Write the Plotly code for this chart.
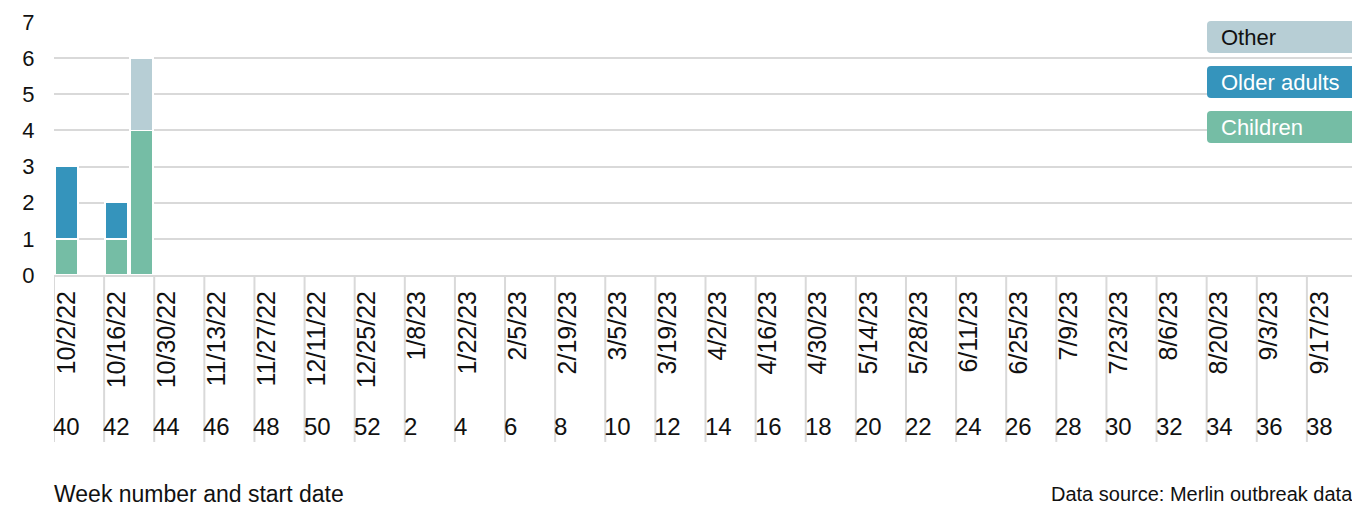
import plotly.graph_objects as go

weeks = [40, 41, 42, 43, 44, 45, 46, 47, 48, 49, 50, 51, 52,
         1, 2, 3, 4, 5, 6, 7, 8, 9, 10, 11, 12, 13, 14, 15, 16, 17, 18, 19, 20,
         21, 22, 23, 24, 25, 26, 27, 28, 29, 30, 31, 32, 33, 34, 35, 36, 37, 38, 39]
date_labels = ["10/2/22", "10/16/22", "10/30/22", "11/13/22", "11/27/22", "12/11/22", "12/25/22",
               "1/8/23", "1/22/23", "2/5/23", "2/19/23", "3/5/23", "3/19/23", "4/2/23", "4/16/23",
               "4/30/23", "5/14/23", "5/28/23", "6/11/23", "6/25/23", "7/9/23", "7/23/23", "8/6/23",
               "8/20/23", "9/3/23", "9/17/23"]
children = [1, 0, 1, 4] + [0] * 48
older_adults = [2, 0, 1, 0] + [0] * 48
other = [0, 0, 0, 2] + [0] * 48

series_names = ["Children", "Older adults", "Other"]
series_values = [children, older_adults, other]
colors = ["#75BDA5", "#3594BC", "#B7CED5"]
text_colors = ["#FFFFFF", "#FFFFFF", "#111111"]

FONT = "Liberation Sans"
x = list(range(len(weeks)))

fig = go.Figure()
for name, vals, col in zip(series_names, series_values, colors):
    fig.add_trace(go.Bar(
        x=x, y=vals, name=name, marker=dict(color=col, line=dict(color="white", width=1.5)),
        showlegend=False, hoverinfo="skip"))

tickvals = x[::2]
fig.update_layout(
    barmode="stack", bargap=0.08,
    width=1352, height=498,
    margin=dict(l=46, r=3, t=14, b=231),
    paper_bgcolor="white", plot_bgcolor="white",
    font=dict(family=FONT, size=20, color="#111111"),
    xaxis=dict(range=[-0.5, len(weeks) - 0.5], tickvals=tickvals, ticktext=date_labels,
               tickangle=-90, showgrid=False, showline=True, linecolor="#D9D9D9", linewidth=2,
               ticks="outside", ticklen=4, tickcolor="rgba(0,0,0,0)",
               tickfont=dict(family=FONT, size=25, color="#111111"), zeroline=False),
    yaxis=dict(range=[0, 7], dtick=1, showgrid=True, gridcolor="#D9D9D9", gridwidth=2,
               zeroline=False, showline=False, ticks="outside", ticklen=14,
               tickcolor="rgba(0,0,0,0)", tickfont=dict(family=FONT, size=22, color="#111111")),
)

# category separators (every 2 weeks)
for i in range(0, len(weeks) + 1, 2):
    fig.add_shape(type="line", xref="x", yref="paper", x0=i - 0.5, x1=i - 0.5, y0=0, y1=-0.66,
                  line=dict(color="#D9D9D9", width=2), layer="below")

# week number labels
for i in tickvals:
    fig.add_annotation(x=i - 0.5, xref="x", y=-0.6, yref="paper", text=str(weeks[i]),
                       showarrow=False, xanchor="left", yanchor="middle",
                       font=dict(family=FONT, size=24, color="#111111"), xshift=-3)

# custom legend boxes
pw, ph = 1303.0, 253.0
def rounded(x0, y0, x1, y1, r=4):
    rx, ry = r / pw, r / ph
    return (f"M{x0+rx},{y0} L{x1-rx},{y0} Q{x1},{y0} {x1},{y0+ry} L{x1},{y1-ry} Q{x1},{y1} {x1-rx},{y1} "
            f"L{x0+rx},{y1} Q{x0},{y1} {x0},{y1-ry} L{x0},{y0+ry} Q{x0},{y0} {x0+rx},{y0} Z")

legend_top_px = [21, 66, 111]
for name, col, tcol, top in zip(reversed(series_names), reversed(colors), reversed(text_colors), legend_top_px):
    x0 = (1207 - 54) / pw
    x1 = (1360 - 54) / pw
    y1 = (275 - top) / ph
    y0 = (275 - top - 32) / ph
    fig.add_shape(type="path", xref="paper", yref="paper", path=rounded(x0, y0, x1, y1),
                  fillcolor=col, line=dict(width=0), layer="above")
    fig.add_annotation(x=x0, y=(y0 + y1) / 2, xref="paper", yref="paper", text=name,
                       showarrow=False, xanchor="left", yanchor="middle", xshift=12,
                       font=dict(family=FONT, size=22, color=tcol))

fig.add_annotation(x=0, y=-0.866, xref="paper", yref="paper", text="Week number and start date",
                   showarrow=False, xanchor="left", yanchor="middle", xshift=-2,
                   font=dict(family=FONT, size=23, color="#111111"))
fig.add_annotation(x=1, y=-0.866, xref="paper", yref="paper", text="Data source: Merlin outbreak data",
                   showarrow=False, xanchor="right", yanchor="middle", xshift=-2,
                   font=dict(family=FONT, size=20, color="#111111"))

fig.write_html("out.html")
